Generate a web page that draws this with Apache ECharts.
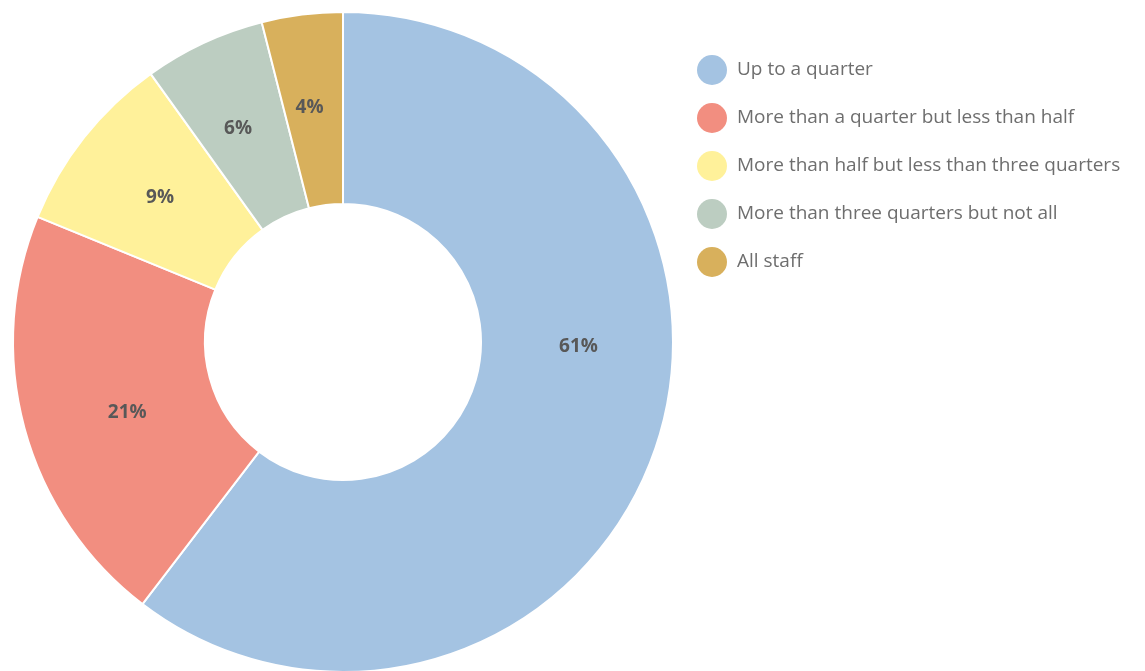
<!DOCTYPE html>
<html>
<head>
<meta charset="utf-8">
<style>
  html, body { margin: 0; padding: 0; background: #ffffff; }
  #chart { width: 1145px; height: 671px; }
</style>
<script src="https://cdn.jsdelivr.net/npm/echarts@6/dist/echarts.min.js"></script>
</head>
<body>
<div id="chart"></div>
<script>
// Share of staff affected, by band
const categories = [
  'Up to a quarter',
  'More than a quarter but less than half',
  'More than half but less than three quarters',
  'More than three quarters but not all',
  'All staff'
];
const values = [61, 21, 9, 6, 4];
const colors = ['#a4c3e2', '#f28e80', '#fff19a', '#bccdc1', '#d8b05c'];

// small nudges for the in-slice labels, [dx, dy] in pixels
const labelNudges = [[11, -71], [13, 9], [3, 3], [-5, 1], [-4, 1]];

const chart = echarts.init(document.getElementById('chart'), null, { renderer: 'canvas' });

chart.setOption({
  animation: false,
  color: colors,
  legend: {
    orient: 'vertical',
    left: 697,
    top: 55,
    padding: 0,
    itemWidth: 30,
    itemHeight: 30,
    itemGap: 18,
    icon: 'circle',
    itemStyle: { borderWidth: 0 },
    textStyle: {
      fontFamily: '"Open Sans", sans-serif',
      fontSize: 19,
      color: '#6e6e6e',
      padding: [0, 0, 0, 5]
    },
    data: categories
  },
  series: [{
    type: 'pie',
    center: [343, 342],
    radius: [138, 330],
    startAngle: 90,
    clockwise: true,
    avoidLabelOverlap: false,
    itemStyle: { borderColor: '#ffffff', borderWidth: 2 },
    label: {
      show: true,
      position: 'inside',
      formatter: '{c}%',
      fontFamily: '"Open Sans", sans-serif',
      fontWeight: 'bold',
      fontSize: 19,
      color: '#585858'
    },
    labelLayout: function (params) {
      const n = labelNudges[params.dataIndex] || [0, 0];
      return { dx: n[0], dy: n[1] };
    },
    labelLine: { show: false },
    emphasis: { disabled: true },
    data: categories.map((name, i) => ({ name, value: values[i] }))
  }]
});
</script>
</body>
</html>
